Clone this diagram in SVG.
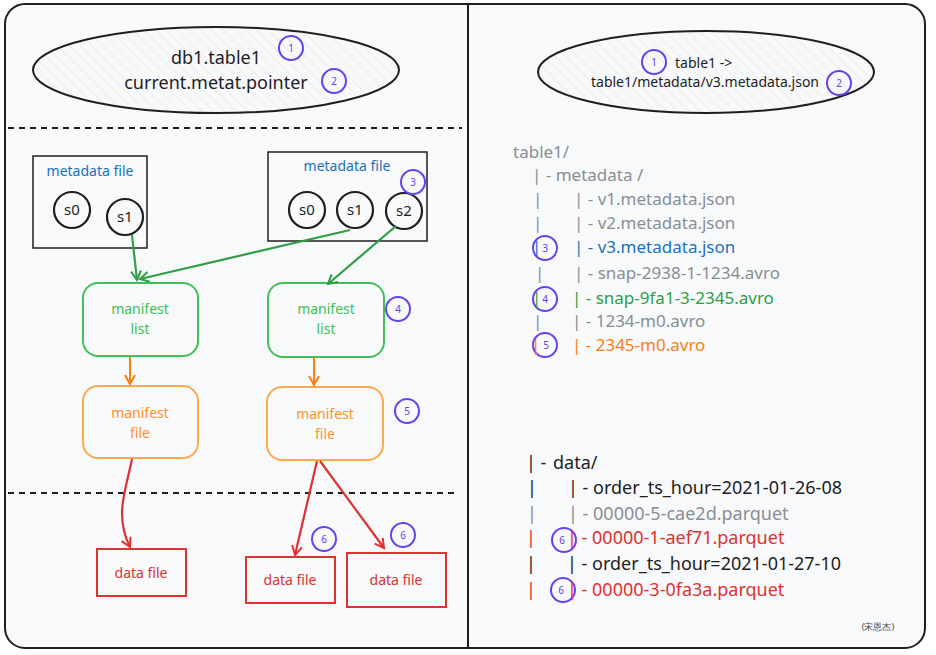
<svg xmlns="http://www.w3.org/2000/svg" width="936" height="655" viewBox="0 0 936 655">
<style>
text{font-family:"Noto Sans","Open Sans",sans-serif}
.ell{fill:url(#hatch);stroke:#1e1e1e;stroke-width:2}
.dash{stroke:#1e1e1e;stroke-width:2;stroke-dasharray:6 5;fill:none}
.mbox{fill:none;stroke:#1e1e1e;stroke-width:1.5}
.snap{fill:none;stroke:#1e1e1e;stroke-width:2.2}
.snapt{font-size:15px;fill:#1e1e1e;text-anchor:middle}
.blue{font-size:14px;fill:#1971c2;text-anchor:middle}
.ml{fill:none;stroke:#40c057;stroke-width:2}
.mlt{font-size:14px;fill:#40c057;text-anchor:middle}
.mf{fill:none;stroke:#ffa94d;stroke-width:2}
.mft{font-size:14px;fill:#ff922b;text-anchor:middle}
.df{fill:none;stroke:#e03131;stroke-width:2}
.dft{font-size:14px;fill:#e03131;text-anchor:middle}
.badge circle{fill:none;stroke:#6741f0;stroke-width:2}
.badge text{font-size:10px;fill:#6741f0;text-anchor:middle}
.tg{font-size:17px;fill:#868e96}
.td{font-size:18px;fill:#1e1e1e}
.tr{font-size:18px;fill:#e03131}
.g{stroke:#2f9e44;stroke-width:2.2;fill:none}
.o{stroke:#fd7e14;stroke-width:2;fill:none}
.r{stroke:#e03131;stroke-width:2.2;fill:none}
</style>
<defs>
<pattern id="hatch" width="8" height="8" patternUnits="userSpaceOnUse" patternTransform="rotate(-45)">
<rect width="8" height="8" fill="#f8f9fa"/>
<line x1="0" y1="0" x2="0" y2="8" stroke="#dee2e6" stroke-width="1"/>
</pattern>
<marker id="ag" viewBox="0 0 12 12" refX="10" refY="6" markerWidth="12" markerHeight="12" markerUnits="userSpaceOnUse" orient="auto"><path d="M1,1 L10,6 L1,11" fill="none" stroke="#2f9e44" stroke-width="2"/></marker>
<marker id="ao" viewBox="0 0 12 12" refX="10" refY="6" markerWidth="12" markerHeight="12" markerUnits="userSpaceOnUse" orient="auto"><path d="M1,1 L10,6 L1,11" fill="none" stroke="#fd7e14" stroke-width="2"/></marker>
<marker id="ar" viewBox="0 0 12 12" refX="10" refY="6" markerWidth="12" markerHeight="12" markerUnits="userSpaceOnUse" orient="auto"><path d="M1,1 L10,6 L1,11" fill="none" stroke="#e03131" stroke-width="2"/></marker>
</defs>
<rect width="936" height="655" fill="#ffffff"/>
<rect id="frame" x="5" y="4" width="920" height="644" rx="20" fill="#f8f9fa" stroke="#1e1e1e" stroke-width="2"/>
<line x1="468" y1="4" x2="468" y2="648" stroke="#1e1e1e" stroke-width="2"/>
<line class="dash" x1="8" y1="128" x2="462" y2="128"/>
<line class="dash" x1="8" y1="493" x2="458" y2="493"/>

<g id="pointer-left">
<ellipse class="ell" cx="216" cy="70" rx="183" ry="43"/>
<text x="216" y="64" font-size="18" fill="#1e1e1e" text-anchor="middle">db1.table1</text>
<text x="216" y="89" font-size="18" fill="#1e1e1e" text-anchor="middle">current.metat.pointer</text>
</g>
<g id="pointer-right">
<ellipse class="ell" cx="706" cy="72" rx="168" ry="41"/>
<text x="675" y="68" font-size="14" fill="#1e1e1e">table1 -&gt;</text>
<text x="705" y="87" font-size="14" fill="#1e1e1e" text-anchor="middle">table1/metadata/v3.metadata.json</text>
</g>

<g id="meta1">
<rect class="mbox" x="33" y="156" width="114" height="92"/>
<text class="blue" x="90" y="176">metadata file</text>
<circle class="snap" cx="72" cy="210" r="18"/><text class="snapt" x="72" y="215">s0</text>
<circle class="snap" cx="125" cy="217" r="18"/><text class="snapt" x="125" y="222">s1</text>
</g>
<g id="meta2">
<rect class="mbox" x="268" y="152" width="159" height="89"/>
<text class="blue" x="347" y="171">metadata file</text>
<circle class="snap" cx="307" cy="210" r="18"/><text class="snapt" x="307" y="215">s0</text>
<circle class="snap" cx="355" cy="210" r="18"/><text class="snapt" x="355" y="215">s1</text>
<circle class="snap" cx="404" cy="211" r="18"/><text class="snapt" x="404" y="216">s2</text>
</g>

<g id="mlist1"><rect class="ml" x="83" y="283" width="115" height="73" rx="15"/>
<text class="mlt" x="140" y="314">manifest</text><text class="mlt" x="140" y="334">list</text></g>
<g id="mlist2"><rect class="ml" x="268" y="283" width="116" height="74" rx="15"/>
<text class="mlt" x="326" y="314">manifest</text><text class="mlt" x="326" y="334">list</text></g>
<g id="mfile1"><rect class="mf" x="83" y="386" width="115" height="72" rx="15"/>
<text class="mft" x="140" y="418">manifest</text><text class="mft" x="140" y="438">file</text></g>
<g id="mfile2"><rect class="mf" x="267" y="387" width="116" height="73" rx="15"/>
<text class="mft" x="325" y="419">manifest</text><text class="mft" x="325" y="439">file</text></g>

<g id="data1"><rect class="df" x="97" y="549" width="89" height="47"/><text class="dft" x="141" y="578">data file</text></g>
<g id="data2"><rect class="df" x="246" y="557" width="89" height="46"/><text class="dft" x="290" y="585">data file</text></g>
<g id="data3"><rect class="df" x="347" y="553" width="99" height="54"/><text class="dft" x="396" y="585">data file</text></g>

<g id="connectors">
<path class="g" d="M132,235 L137,280" marker-end="url(#ag)"/>
<path class="g" d="M350,230 L140,279" marker-end="url(#ag)"/>
<path class="g" d="M396,226 L328,284" marker-end="url(#ag)"/>
<path class="o" d="M130,357 L130,384" marker-end="url(#ao)"/>
<path class="o" d="M314,357 L314,385" marker-end="url(#ao)"/>
<path class="r" d="M132,459 C126,490 114,515 130,547" marker-end="url(#ar)"/>
<path class="r" d="M317,461 L295,555" marker-end="url(#ar)"/>
<path class="r" d="M320,461 L384,548" marker-end="url(#ar)"/>
</g>

<g id="badges" class="badge">
<circle cx="291" cy="48" r="12"/><text x="291" y="52">1</text>
<circle cx="334" cy="81" r="12"/><text x="334" y="85">2</text>
<circle cx="654" cy="62" r="12"/><text x="654" y="66">1</text>
<circle cx="839" cy="83" r="12"/><text x="839" y="87">2</text>
<circle cx="413" cy="182" r="12"/><text x="413" y="186">3</text>
<circle cx="398" cy="309" r="12"/><text x="398" y="313">4</text>
<circle cx="407" cy="411" r="12"/><text x="407" y="415">5</text>
<circle cx="324" cy="539" r="12"/><text x="324" y="543">6</text>
<circle cx="403" cy="535" r="12"/><text x="403" y="539">6</text>
<circle cx="545" cy="248" r="12"/><text x="545" y="252">3</text>
<circle cx="545" cy="299" r="12"/><text x="545" y="303">4</text>
<circle cx="545" cy="345" r="12"/><text x="546" y="349">5</text>
<circle cx="564" cy="540" r="12"/><text x="562" y="544">6</text>
<circle cx="563" cy="590" r="12"/><text x="561" y="594">6</text>
</g>

<g id="tree">
<text class="tg" x="513" y="158">table1/</text>
<text class="tg" x="532" y="181">| - metadata /</text>
<text class="tg" x="533" y="205">|</text><text class="tg" x="574" y="205">| - v1.metadata.json</text>
<text class="tg" x="533" y="229">|</text><text class="tg" x="574" y="229">| - v2.metadata.json</text>
<text class="tg" x="532" y="253" style="fill:#1971c2">|</text><text class="tg" x="574" y="253" style="fill:#1971c2">| - v3.metadata.json</text>
<text class="tg" x="535" y="279">|</text><text class="tg" x="574" y="279">| - snap-2938-1-1234.avro</text>
<text class="tg" x="532" y="304" style="fill:#2f9e44">|</text><text class="tg" x="572" y="304" style="fill:#2f9e44">| - snap-9fa1-3-2345.avro</text>
<text class="tg" x="533" y="327">|</text><text class="tg" x="572" y="327">| - 1234-m0.avro</text>
<text class="tg" x="531" y="351" style="fill:#fd7e14">|</text><text class="tg" x="572" y="351" style="fill:#fd7e14">| - 2345-m0.avro</text>

<text class="td" x="526" y="469">| -</text><text class="td" x="553" y="469">data/</text>
<text class="td" x="527" y="494">|</text><text class="td" x="568" y="494">| - order_ts_hour=2021-01-26-08</text>
<text class="td" x="527" y="520" style="fill:#868e96">|</text><text class="td" x="568" y="520" style="fill:#868e96">| - 00000-5-cae2d.parquet</text>
<text class="tr" x="526" y="544">|</text><text class="tr" x="567" y="544">| - 00000-1-aef71.parquet</text>
<text class="td" x="526" y="570">|</text><text class="td" x="567" y="570">| - order_ts_hour=2021-01-27-10</text>
<text class="tr" x="526" y="596">|</text><text class="tr" x="567" y="596">| - 00000-3-0fa3a.parquet</text>
</g>
<text x="878" y="630" font-size="9" fill="#495057" text-anchor="middle" font-family="'Noto Sans CJK SC',sans-serif">(宋恩杰)</text>
</svg>
